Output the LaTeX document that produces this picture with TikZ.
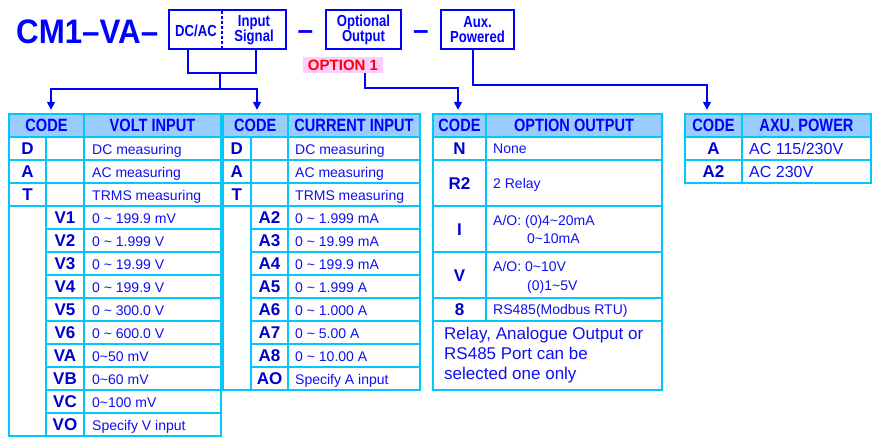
\documentclass[tikz,border=0pt]{standalone}
\usepackage{fontspec}
\setmainfont{Liberation Sans}
\newfontfamily\cmfont[FakeStretch=0.92]{Liberation Sans}
\newfontfamily\nrwfont[FakeStretch=0.82]{Liberation Sans}
\usetikzlibrary{%
  positioning
 ,calc
 ,arrows.meta
}
\definecolor{kblue}{RGB}{0,0,255}
\definecolor{cblue}{RGB}{0,0,205}
\definecolor{tblue}{RGB}{15,15,240}
\definecolor{grd}{RGB}{0,200,250}
\definecolor{hfill}{RGB}{153,204,255}
\definecolor{pnk}{RGB}{255,204,255}
\newcommand\tld{\textasciitilde}
\tikzstyle{topbox}=[draw=kblue,line width=2pt,inner sep=0pt,minimum height=39pt]
\tikzstyle{boxtxt}=[text=kblue,inner sep=0pt,align=center,font=\nrwfont\bfseries\fontsize{16}{15}\selectfont]
\tikzstyle{conn}=[draw=kblue,line width=1.6pt]
\tikzstyle{arr}=[-{Triangle[width=8pt,length=8pt]},shorten >=4pt]
\tikzstyle{grid}=[draw=grd,line width=1.6pt]
\tikzstyle{frame}=[draw=grd,line width=2.4pt]
\tikzstyle{headcell}=[fill=hfill,text=kblue,inner sep=0pt,minimum height=23pt,font=\nrwfont\bfseries\fontsize{17.8}{17.8}\selectfont]
\tikzstyle{codetxt}=[text=cblue,inner sep=0pt,anchor=base,font=\bfseries\fontsize{17}{17}\selectfont]
\tikzstyle{celltxt}=[text=tblue,inner sep=0pt,anchor=base west,font=\fontsize{14}{14}\selectfont]

\begin{document}
\begin{tikzpicture}[x=1pt,y=-1pt]
  \useasboundingbox (0,0) rectangle (873,439);
  % the order code
  \node[anchor=base west,inner sep=0pt,text=kblue,font=\cmfont\bfseries\fontsize{34}{34}\selectfont] (cm) at (16,43.5) {CM1–VA–};
  \node[topbox,minimum width=117pt] (sigbox) at (227.5,29.5) {};
  \node[boxtxt] (dcac) at (196,31) {DC/AC};
  \node[boxtxt] (insig) at (254,30) {Input\\Signal};
  \draw[kblue,line width=1.2pt,dash pattern=on 3pt off 2pt] ($(sigbox.north west)+(54,2)$) -- ($(sigbox.south west)+(54,-2)$);
  \node[anchor=base,inner sep=0pt,text=kblue,font=\bfseries\fontsize{28}{28}\selectfont] (d1) at (305.5,39) {–};
  \node[topbox,minimum width=75pt] (optbox) at (363.5,29.5) {};
  \node[boxtxt] (opttxt) at (363.5,30) {Optional\\Output};
  \node[anchor=base,inner sep=0pt,text=kblue,font=\bfseries\fontsize{28}{28}\selectfont] (d2) at (421,39) {–};
  \node[topbox,minimum width=73pt] (auxbox) at (477.5,29.5) {};
  \node[boxtxt] (auxtxt) at (477.5,30) {Aux.\\Powered};
  \node[fill=pnk,text=red,inner sep=0pt,minimum width=80pt,minimum height=16pt,font=\bfseries\fontsize{15}{15}\selectfont] (opt1) at (343,65) {OPTION 1};

  % the volt input table
  \node[headcell,minimum width=75pt] (vcode) at (46.5,125.5) {CODE};
  \node[headcell,minimum width=137pt] (vhead) at (152.5,125.5) {VOLT INPUT};
  \foreach \cd/\lbl [count=\k] in {D/DC measuring,A/AC measuring,T/TRMS measuring}{
    \node[codetxt] (v\cd) at (27.5,{131+23*\k}) {\cd};
    \node[celltxt] (vt\cd) at (92,{131+23*\k}) {\lbl};
  }
  \foreach \cd/\lbl [count=\k from 4] in {V1/0 \tld{} 199.9 mV,V2/0 \tld{} 1.999 V,V3/0 \tld{} 19.99 V,
      V4/0 \tld{} 199.9 V,V5/0 \tld{} 300.0 V,V6/0 \tld{} 600.0 V,VA/0\tld50 mV,VB/0\tld60 mV,
      VC/0\tld100 mV,VO/Specify V input}{
    \node[codetxt] (v\cd) at (65,{131+23*\k}) {\cd};
    \node[celltxt] (vt\cd) at (92,{131+23*\k}) {\lbl};
  }
  \draw[grid] (9,137) -- (221,137);
  \foreach \k in {1,2,3}
    \draw[grid] (9,{137+23*\k}) -- (221,{137+23*\k});
  \foreach \k in {4,...,12}
    \draw[grid] (46,{137+23*\k}) -- (221,{137+23*\k});
  \draw[grid] (46,137) -- (46,436) (84,114) -- (84,436);
  \draw[frame] (9,114) rectangle (221,436);

  % the current input table
  \node[headcell,minimum width=65.5pt] (ccode) at (255.25,125.5) {CODE};
  \node[headcell,minimum width=132pt] (chead) at (354,125.5) {CURRENT INPUT};
  \foreach \cd/\lbl [count=\k] in {D/DC measuring,A/AC measuring,T/TRMS measuring}{
    \node[codetxt] (c\cd) at (236.75,{131+23*\k}) {\cd};
    \node[celltxt] (ct\cd) at (295,{131+23*\k}) {\lbl};
  }
  \foreach \cd/\lbl [count=\k from 4] in {A2/0 \tld{} 1.999 mA,A3/0 \tld{} 19.99 mA,A4/0 \tld{} 199.9 mA,
      A5/0 \tld{} 1.999 A,A6/0 \tld{} 1.000 A,A7/0 \tld{} 5.00 A,A8/0 \tld{} 10.00 A,AO/Specify A input}{
    \node[codetxt] (c\cd) at (269.5,{131+23*\k}) {\cd};
    \node[celltxt] (ct\cd) at (295,{131+23*\k}) {\lbl};
  }
  \draw[grid] (222.5,137) -- (420,137);
  \foreach \k in {1,2,3}
    \draw[grid] (222.5,{137+23*\k}) -- (420,{137+23*\k});
  \foreach \k in {4,...,10}
    \draw[grid] (251,{137+23*\k}) -- (420,{137+23*\k});
  \draw[grid] (251,137) -- (251,390) (288,114) -- (288,390);
  \draw[frame] (222.5,114) rectangle (420,390);

  % the option output table
  \node[headcell,minimum width=53pt] (ocode) at (459.5,125.5) {CODE};
  \node[headcell,minimum width=176pt] (ohead) at (574,125.5) {OPTION OUTPUT};
  \node[codetxt] (oN) at (459.5,154.5) {N};
  \node[codetxt] (oR) at (459.5,189) {R2};
  \node[codetxt] (oI) at (459.5,235) {I};
  \node[codetxt] (oV) at (459.5,281) {V};
  \node[codetxt] (o8) at (459.5,315.5) {8};
  \node[celltxt] (otN) at (493,153.5) {None};
  \node[celltxt] (otR) at (493,188) {2 Relay};
  \node[celltxt] (otI) at (493,225) {A/O: (0)4\tld20mA};
  \node[celltxt] (otIb) at (527,243) {0\tld10mA};
  \node[celltxt] (otV) at (493,271) {A/O: 0\tld10V};
  \node[celltxt] (otVb) at (527,290) {(0)1\tld5V};
  \node[celltxt] (ot8) at (493,314.5) {RS485(Modbus RTU)};
  \node[text=tblue,inner sep=0pt,anchor=west,align=left,font=\fontsize{17}{20}\selectfont] (onote) at (444,355) {Relay, Analogue Output or\\RS485 Port can be\\selected one only};
  \foreach \yy in {137,160,206,252,298,321}
    \draw[grid] (433,\yy) -- (662,\yy);
  \draw[grid] (486,114) -- (486,321);
  \draw[frame] (433,114) rectangle (662,390);

  % the aux. power table
  \node[headcell,minimum width=57pt] (acode) at (713.5,125.5) {CODE};
  \node[headcell,minimum width=129pt] (ahead) at (806.5,125.5) {AXU. POWER};
  \node[codetxt] (aA) at (713.5,154.5) {A};
  \node[codetxt] (aA2) at (713.5,177.5) {A2};
  \node[celltxt,font=\fontsize{16}{16}\selectfont] (atA) at (749,154.5) {AC 115/230V};
  \node[celltxt,font=\fontsize{16}{16}\selectfont] (atA2) at (749,177.5) {AC 230V};
  \draw[grid] (685,137) -- (871,137) (685,160) -- (871,160) (742,114) -- (742,183);
  \draw[frame] (685,114) rectangle (871,183);

  % the arrows
  \coordinate (sbl) at ($(sigbox.south west)+(20,0)$);
  \coordinate (sbr) at ($(sigbox.south west)+(88,0)$);
  \coordinate (sj) at ($(sbl)+(32,23)$);
  \coordinate (sk) at ($(sj)+(0,16)$);
  \draw[conn] (sbl) -- ++(0,23) -| (sbr);
  \draw[conn] (sj) -- (sk);
  \draw[conn,arr] (sk) -| ($(vcode.north)+(4.5,0)$);
  \draw[conn,arr] (sk) -| ($(ccode.north)+(1.75,0)$);
  \coordinate (os) at ($(opt1.south)+(22,0)$);
  \draw[conn,arr] (os) -- ++(0,15) -| ($(ocode.north)+(-1.5,0)$);
  \coordinate (as) at ($(auxbox.south)+(-4.5,0)$);
  \draw[conn,arr] (as) -- ++(0,35) -| ($(acode.north)+(-6.5,0)$);
\end{tikzpicture}
\end{document}
